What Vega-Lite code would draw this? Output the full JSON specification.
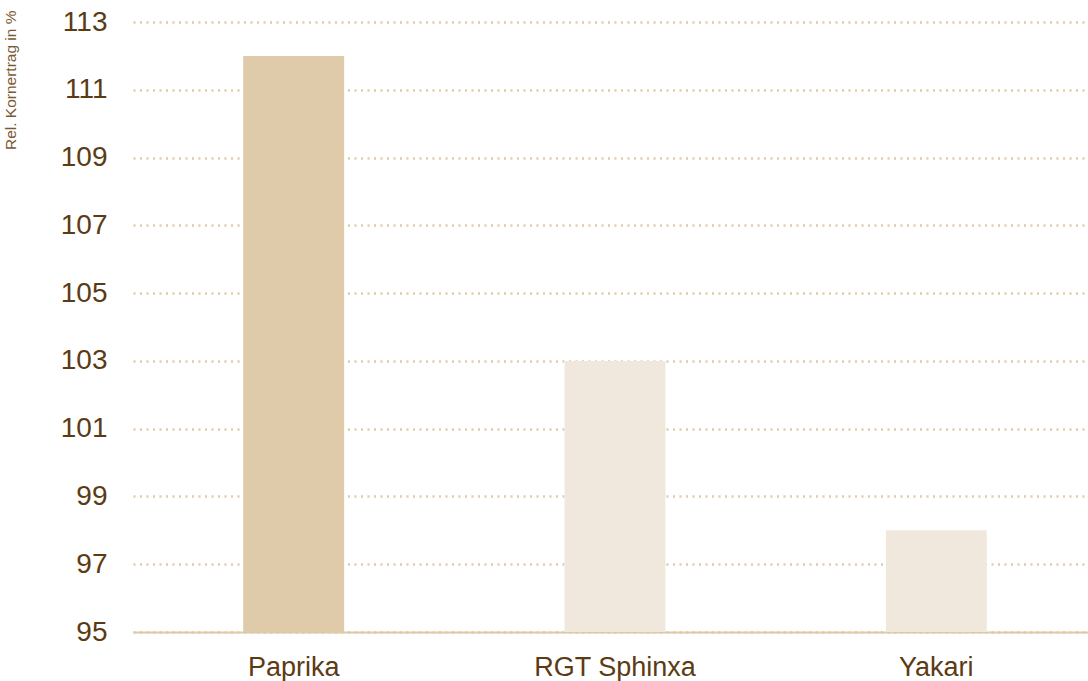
{
  "$schema": "https://vega.github.io/schema/vega-lite/v6.json",
  "autosize": "none",
  "width": 964,
  "height": 610,
  "padding": {"left": 133, "top": 22, "right": 0, "bottom": 49},
  "background": "white",
  "config": {"view": {"stroke": null}, "font": "Liberation Sans"},
  "data": {"values": [
    {"sorte": "Paprika", "ertrag": 112, "gruppe": "a"},
    {"sorte": "RGT Sphinxa", "ertrag": 103, "gruppe": "b"},
    {"sorte": "Yakari", "ertrag": 98, "gruppe": "b"}
  ]},
  "mark": {"type": "bar", "clip": true},
  "encoding": {
    "x": {"field": "sorte", "type": "nominal", "sort": null,
      "scale": {"paddingInner": 0.686, "paddingOuter": 0.343},
      "axis": {"title": null, "labelAngle": 0, "ticks": false, "domain": true, "domainColor": "#dccaa8", "domainWidth": 2,
        "labelFontSize": 27, "labelColor": "#5c3b14", "labelPadding": 22}},
    "y": {"field": "ertrag", "type": "quantitative",
      "scale": {"domain": [95, 113], "nice": false, "zero": false},
      "axis": {"values": [95, 97, 99, 101, 103, 105, 107, 109, 111, 113], "title": "Rel. Kornertrag in %",
        "titleFontSize": 15.5, "titleFontWeight": "normal", "titleColor": "#7a5a32", "titleAngle": -90,
        "titleAlign": "right", "titleBaseline": "middle", "titleX": -123, "titleY": -12,
        "domain": false, "ticks": false, "labelFontSize": 28, "labelColor": "#5c3b14", "labelPadding": 26,
        "grid": true, "gridColor": "#e0cca8", "gridWidth": 2.5, "gridDash": [2, 4.5]}},
    "color": {"field": "gruppe", "type": "nominal", "legend": null,
      "scale": {"domain": ["a", "b"], "range": ["#dfcbaa", "#f1e8dd"]}}
  }
}
